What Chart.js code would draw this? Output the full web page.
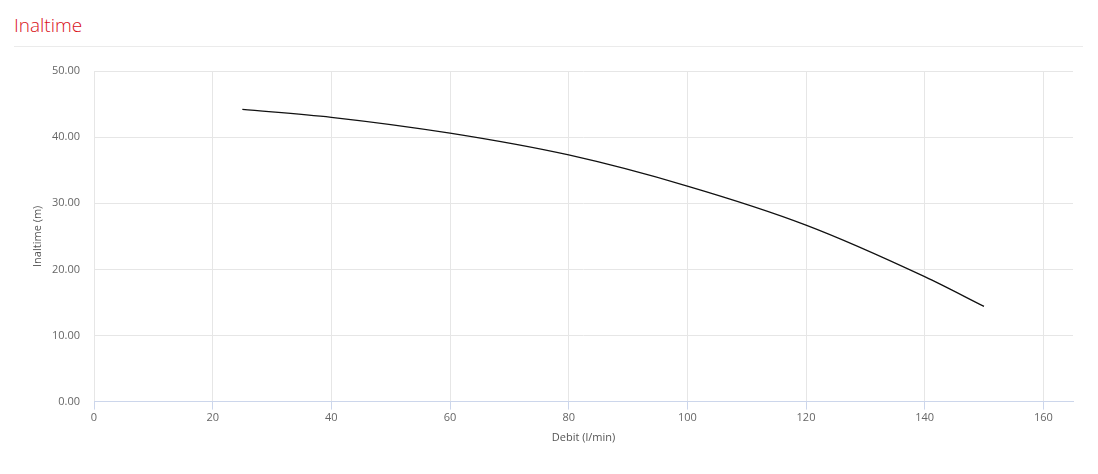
<!DOCTYPE html>
<html>
<head>
<meta charset="utf-8">
<script src="https://cdn.jsdelivr.net/npm/chart.js@4/dist/chart.umd.min.js"></script>
<style>
  html, body { margin: 0; padding: 0; background: #fff; }
  body { width: 1098px; height: 474px; position: relative; overflow: hidden; font-family: "Open Sans", sans-serif; }
  #title {
    position: absolute; left: 14px; top: 12px; width: 1069px;
    font-size: 19px; font-weight: 300; color: #d9101a;
    padding-bottom: 8px; border-bottom: 1px solid #ebebeb; line-height: 26px;
  }
  #wrap { position: absolute; left: 0; top: 0; width: 1098px; height: 474px; }
</style>
</head>
<body>
<div id="title">Inaltime</div>
<div id="wrap"><canvas id="pump_curve"></canvas></div>
<script>
// flow (l/min) and head (m)
const debit = [25, 40, 60, 80, 100, 120, 140, 150];
const inaltime = [44.2, 43.0, 40.6, 37.3, 32.6, 26.7, 18.9, 14.4];
const yTicks = [0, 10, 20, 30, 40, 50];
const xTicks = [0, 20, 40, 60, 80, 100, 120, 140, 160];

(function pump_chart()
{
    const ctx = document.getElementById('pump_curve');
    const points = debit.map((d, i) => ({ x: d, y: inaltime[i] }));
    new Chart(ctx, {
        type: 'line',
        data: {
            datasets: [{
                label: 'Inaltime',
                data: points,
                borderColor: '#111',
                borderWidth: 1.3,
                pointRadius: 0,
                fill: false,
                cubicInterpolationMode: 'monotone'
            }]
        },
        options: {
            responsive: true,
            maintainAspectRatio: false,
            animation: false,
            layout: { padding: { top: 71, right: 25, left: 14, bottom: 26 } },
            plugins: { legend: { display: false }, tooltip: { enabled: false } },
            scales: {
                x: {
                    type: 'linear',
                    min: 0,
                    max: 165,
                    afterBuildTicks: (axis) => { axis.ticks = xTicks.map(v => ({ value: v })); },
                    grid: { color: '#e6e6e6', tickColor: '#ccd6eb', tickLength: 8 },
                    border: { color: '#ccd6eb' },
                    ticks: { color: '#666', font: { family: 'Open Sans', size: 11 }, padding: 2, maxRotation: 0 },
                    title: { display: true, text: 'Debit (l/min)', color: '#555', font: { family: 'Open Sans', size: 11 }, padding: { top: 4 } }
                },
                y: {
                    min: 0,
                    max: 50,
                    afterBuildTicks: (axis) => { axis.ticks = yTicks.map(v => ({ value: v })); },
                    afterFit: (axis) => { axis.width = 80; },
                    grid: { color: '#e6e6e6', drawTicks: false },
                    border: { display: false },
                    ticks: { color: '#666', font: { family: 'Open Sans', size: 11 }, padding: 14, callback: v => v.toFixed(2) },
                    title: { display: true, text: 'Inaltime (m)', color: '#555', font: { family: 'Open Sans', size: 11 }, padding: { top: 17, bottom: 0 } }
                }
            }
        }
    });
})();
</script>
</body>
</html>
